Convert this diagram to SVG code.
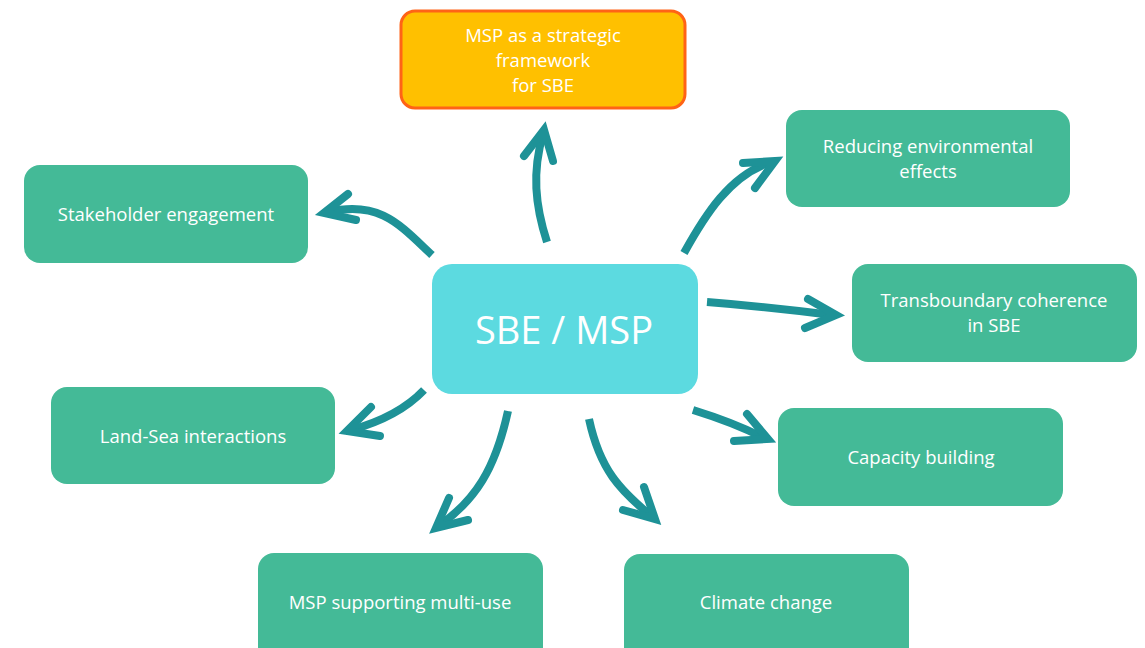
<svg xmlns="http://www.w3.org/2000/svg" width="1145" height="648" viewBox="0 0 1145 648">
<style>
.node rect{fill:#44ba97}
.lbl{font-family:"Open Sans","Liberation Sans",sans-serif;font-size:18.5px;fill:#ffffff;text-anchor:middle}
.shaft{fill:none;stroke:#1e9297;stroke-width:8;stroke-linecap:butt}
.head{fill:none;stroke:#1e9297;stroke-width:8;stroke-linecap:round;stroke-linejoin:miter;stroke-miterlimit:10}
</style>
<rect width="1145" height="648" fill="#ffffff"/>
<g id="connectors">
<path class="shaft" d="M547,242 C535,205 532,172 543,134"/>
<polyline class="head" points="524,156 544,130 553,161"/>
<path class="shaft" d="M432,255 C400,225 380,200 328,212"/>
<polyline class="head" points="348,194 324,213 356,220"/>
<path class="shaft" d="M684,253 C705,215 730,175 771,162"/>
<polyline class="head" points="743,163 775,161 755,188"/>
<path class="shaft" d="M707,302 Q770,307 832,315"/>
<polyline class="head" points="808,299 836,315 805,328"/>
<path class="shaft" d="M693,410 Q735,423 764,438"/>
<polyline class="head" points="747,414 768,439 734,441"/>
<path class="shaft" d="M424,390 C405,410 380,422 351,430"/>
<polyline class="head" points="371,407 347,431 380,436"/>
<path class="shaft" d="M508,411 C495,470 475,500 440,525"/>
<polyline class="head" points="449,498 436,528 468,520"/>
<path class="shaft" d="M589,419 C600,470 620,490 651,516"/>
<polyline class="head" points="644,487 655,519 623,510"/>
</g>
<g id="n-top">
<rect x="401" y="11" width="284" height="97" rx="14" fill="#ffc000" stroke="#ff6316" stroke-width="3"/>
<text class="lbl" x="543" y="42">MSP as a strategic</text>
<text class="lbl" x="543" y="67">framework</text>
<text class="lbl" x="543" y="92">for SBE</text>
</g>
<g id="n-stakeholder" class="node">
<rect x="24" y="165" width="284" height="98" rx="16"/>
<text class="lbl" x="166" y="221">Stakeholder engagement</text>
</g>
<g id="n-landsea" class="node">
<rect x="51" y="387" width="284" height="97" rx="16"/>
<text class="lbl" x="193" y="443">Land-Sea interactions</text>
</g>
<g id="n-reducing" class="node">
<rect x="786" y="110" width="284" height="97" rx="16"/>
<text class="lbl" x="928" y="153">Reducing environmental</text>
<text class="lbl" x="928" y="178">effects</text>
</g>
<g id="n-transboundary" class="node">
<rect x="852" y="264" width="285" height="98" rx="16"/>
<text class="lbl" x="994" y="307">Transboundary coherence</text>
<text class="lbl" x="994" y="332">in SBE</text>
</g>
<g id="n-capacity" class="node">
<rect x="778" y="408" width="285" height="98" rx="16"/>
<text class="lbl" x="921" y="464">Capacity building</text>
</g>
<g id="n-multiuse" class="node">
<rect x="258" y="553" width="285" height="110" rx="16"/>
<text class="lbl" x="400" y="609">MSP supporting multi-use</text>
</g>
<g id="n-climate" class="node">
<rect x="624" y="554" width="285" height="110" rx="16"/>
<text class="lbl" x="766" y="609">Climate change</text>
</g>
<g id="n-center">
<rect x="432" y="264" width="266" height="130" rx="20" fill="#5cdae0"/>
<text x="564" y="344" font-family="'Open Sans','Liberation Sans',sans-serif" font-size="38" fill="#ffffff" text-anchor="middle">SBE / MSP</text>
</g>
</svg>
